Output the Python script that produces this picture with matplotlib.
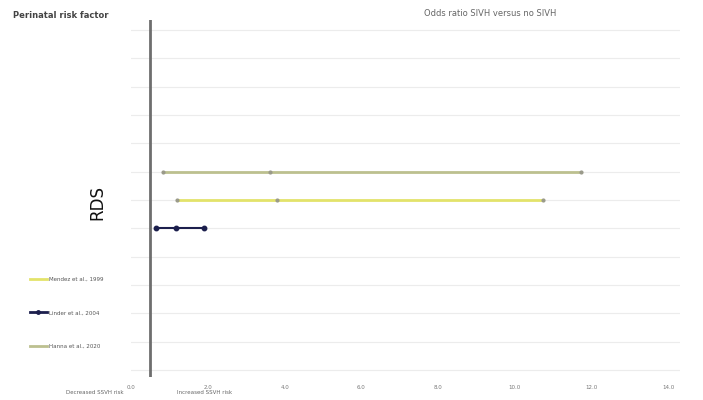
import matplotlib
matplotlib.use("Agg")
import matplotlib.pyplot as plt
from matplotlib.lines import Line2D

# Study estimates: odds ratio with lower / upper confidence limits
studies = ["Mendez et al., 1999", "Linder et al., 2004", "Hanna et al., 2020"]
lower = [1.2, 0.65, 0.83]
odds_ratio = [3.8, 1.17, 3.62]
upper = [10.74, 1.9, 11.73]
rows = [6, 5, 7]
colors = ["#e3e36a", "#1c1f4d", "#bcc08f"]

xticks = [0, 2, 4, 6, 8, 10, 12, 14]
xticklabels = ["0.0", "2.0", "4.0", "6.0", "8.0", "10.0", "12.0", "14.0"]
grid_rows = list(range(0, 13))

fig = plt.figure(figsize=(7.03, 4.0), dpi=100)
ax = fig.add_axes([131 / 703, 1 - 377 / 400, (680 - 131) / 703, (377 - 20) / 400])
ax.set_xlim(0, 14.3)
ax.set_ylim(-0.25, 12.35)

for g in grid_rows:
    ax.axhline(g, color="#ececec", lw=0.8, zorder=0)

ax.axvline(0.5, color="#6e6e6e", lw=2, zorder=3)

handles = []
for name, lo, mid, hi, r, c in zip(studies, lower, odds_ratio, upper, rows, colors):
    is_dark = c == "#1c1f4d"
    ax.plot([lo, mid, hi], [r, r, r], color=c, lw=2 if not is_dark else 1.5,
            marker="o", markersize=3.2 if is_dark else 2,
            markerfacecolor=c if is_dark else "#9a9a8a",
            markeredgecolor=c if is_dark else "#9a9a8a", zorder=4)
    handles.append(Line2D([], [], color=c, lw=2, marker="o",
                          markersize=2.5 if is_dark else 0, label=name))

for s in ax.spines.values():
    s.set_visible(False)
ax.set_yticks([])
ax.set_xticks(xticks)
ax.set_xticklabels(xticklabels, fontsize=4, color="#777777")
ax.tick_params(axis="x", length=0, pad=6)

fig.text(13 / 703, 1 - 15 / 400, "Perinatal risk factor", fontsize=6,
         color="#444444", fontweight="bold", va="center", ha="left")
fig.text(490 / 703, 1 - 14 / 400, "Odds ratio SIVH versus no SIVH", fontsize=6,
         color="#666666", va="center", ha="center")
fig.text(97 / 703, 1 - 202 / 400, "RDS", fontsize=12, rotation=90,
         color="#111111", va="center", ha="center")
fig.text(95 / 703, 1 - 392 / 400, "Decreased SSVH risk", fontsize=4,
         color="#666666", va="center", ha="center")
fig.text(205 / 703, 1 - 392 / 400, "Increased SSVH risk", fontsize=4,
         color="#666666", va="center", ha="center")

fig.legend(handles=handles, loc="upper left",
           bbox_to_anchor=(25 / 703, 1 - 272 / 400), frameon=False,
           fontsize=4, labelcolor="#555555", handlelength=3,
           labelspacing=5.1, handletextpad=0.5)

fig.savefig("out.png", dpi=100, facecolor="white")
